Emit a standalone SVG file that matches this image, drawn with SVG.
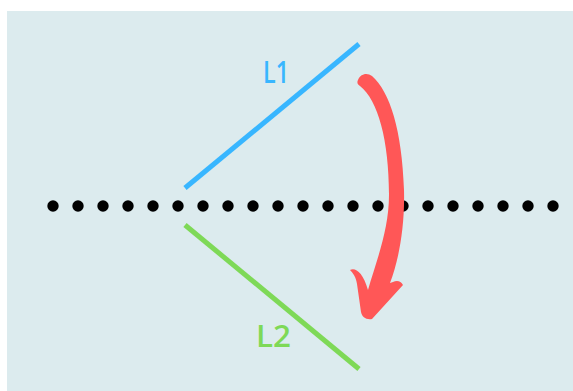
<svg xmlns="http://www.w3.org/2000/svg" width="573" height="391" viewBox="0 0 573 391">
<style>
.lbl{font-family:"Open Sans","DejaVu Sans",sans-serif;font-size:31px;font-weight:600}
.dot{fill:#000}
</style>
<rect x="0" y="0" width="573" height="391" fill="#fff"/>
<rect x="7" y="11" width="566" height="380" fill="#dcebee"/>
<g id="dots">
<circle class="dot" cx="53" cy="206" r="5.7"/><circle class="dot" cx="78" cy="206" r="5.7"/><circle class="dot" cx="103" cy="206" r="5.7"/><circle class="dot" cx="128" cy="206" r="5.7"/><circle class="dot" cx="153" cy="206" r="5.7"/><circle class="dot" cx="178" cy="206" r="5.7"/><circle class="dot" cx="203" cy="206" r="5.7"/><circle class="dot" cx="228" cy="206" r="5.7"/><circle class="dot" cx="253" cy="206" r="5.7"/><circle class="dot" cx="278" cy="206" r="5.7"/><circle class="dot" cx="303" cy="206" r="5.7"/><circle class="dot" cx="328" cy="206" r="5.7"/><circle class="dot" cx="353" cy="206" r="5.7"/><circle class="dot" cx="378" cy="206" r="5.7"/><circle class="dot" cx="403" cy="206" r="5.7"/><circle class="dot" cx="428" cy="206" r="5.7"/><circle class="dot" cx="453" cy="206" r="5.7"/><circle class="dot" cx="478" cy="206" r="5.7"/><circle class="dot" cx="503" cy="206" r="5.7"/><circle class="dot" cx="528" cy="206" r="5.7"/><circle class="dot" cx="553" cy="206" r="5.7"/>
</g>
<g id="L1">
<line x1="185" y1="188" x2="359" y2="44" stroke="#38b6ff" stroke-width="5"/>
<text class="lbl" x="263" y="83" fill="#38b6ff" textLength="26" lengthAdjust="spacingAndGlyphs">L1</text>
</g>
<g id="L2">
<line x1="185" y1="225" x2="359" y2="369" stroke="#7ed957" stroke-width="5"/>
<text class="lbl" x="256" y="347" fill="#7ed957" textLength="35" lengthAdjust="spacingAndGlyphs">L2</text>
</g>
<g id="arrow">
<path d="M 358 80 C 360 74, 367 72, 372 76 C 390 92, 402 130, 404 190 C 405 230, 398 262, 390 283 L 393 282 C 397 280, 401 281, 403 285 L 372 319 C 366 320, 362 317, 361 312 L 357 284 C 356 277, 353 273, 350 270 C 355 267, 363 272, 368 290 C 376 262, 389 230, 389 195 C 389 140, 378 100, 360 86 C 357 84, 357 82, 358 80 Z" fill="#ff5757"/>
</g>
</svg>
